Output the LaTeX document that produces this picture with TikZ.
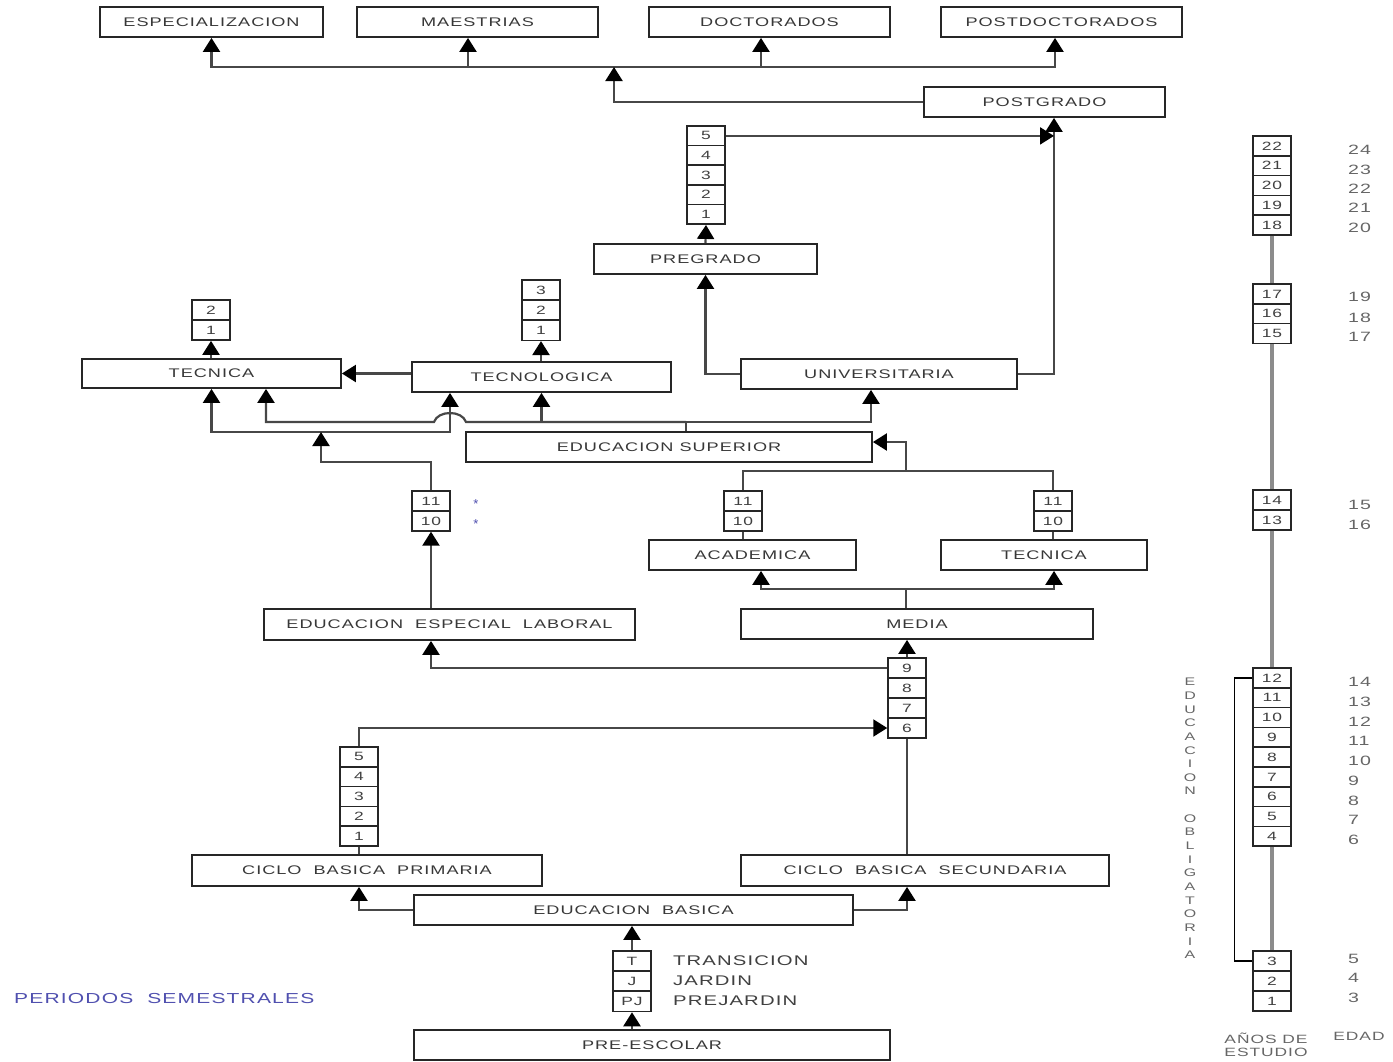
\documentclass[tikz,border=0pt]{standalone}
\usepackage{fontspec}
\setmainfont{Liberation Sans}
\newfontfamily\dfont[FakeStretch=1.45,LetterSpace=8]{Liberation Sans}
\usetikzlibrary{arrows.meta}
\newcommand\bxfont{\dfont\fontsize{12.5}{14}\selectfont}
\newcommand\clfont{\dfont\fontsize{12}{12}\selectfont}
\newcommand\agefont{\dfont\fontsize{13.5}{14}\selectfont}
\newcommand\lblfont{\dfont\fontsize{14}{16}\selectfont}
\newcommand\vfont{\dfont\fontsize{11}{13.65}\selectfont}
\newcommand\smfont{\dfont\fontsize{12}{14}\selectfont}
\definecolor{semblue}{RGB}{80,80,175}
\begin{document}
\begin{tikzpicture}[x=1pt,y=-1pt,
 box/.style={draw=black!85, line width=1.8pt, fill=white, inner sep=0pt, font=\bxfont, text=black!78},
 cell/.style={draw=black!85, line width=1.5pt, fill=white, inner sep=0pt, minimum width=38, minimum height=19.8, font=\clfont, text=black!75},
 conn/.style={draw=black!72, line width=2.2pt},
 arr/.style={-{Triangle[length=14pt,width=17pt,color=black]}},
 gline/.style={draw=black!45, line width=4pt},
 age/.style={font=\agefont, text=black!60, anchor=west, inner sep=0pt},
 lbl/.style={font=\lblfont, text=black!75, anchor=west, inner sep=0pt}]
\useasboundingbox (0,0) rectangle (1393,1061);

% ---------- boxes ----------
\node[box,minimum width=223,minimum height=30] (esp) at (211.5,22) {ESPECIALIZACION};
\node[box,minimum width=241,minimum height=30] (mae) at (477.5,22) {MAESTRIAS};
\node[box,minimum width=241,minimum height=30] (doc) at (769.5,22) {DOCTORADOS};
\node[box,minimum width=241,minimum height=30] (pdoc) at (1061.5,22) {POSTDOCTORADOS};
\node[box,minimum width=241,minimum height=30] (post) at (1044.5,102) {POSTGRADO};
\node[box,minimum width=223,minimum height=30] (pregrado) at (705.5,259) {PREGRADO};
\node[box,minimum width=276,minimum height=30] (univ) at (879,374) {UNIVERSITARIA};
\node[box,minimum width=259,minimum height=29] (tecnica) at (211.5,373.5) {TECNICA};
\node[box,minimum width=259,minimum height=30] (tecnol) at (541.5,377) {TECNOLOGICA};
\node[box,minimum width=406,minimum height=30] (esup) at (669,447) {EDUCACION SUPERIOR};
\node[box,minimum width=207,minimum height=30] (acad) at (752.5,555) {ACADEMICA};
\node[box,minimum width=206,minimum height=30] (tec2) at (1044,555) {TECNICA};
\node[box,minimum width=371,minimum height=31] (eel) at (449.5,624.5) {EDUCACION\ \ ESPECIAL\ \ LABORAL};
\node[box,minimum width=352,minimum height=30] (media) at (917,624) {MEDIA};
\node[box,minimum width=350,minimum height=31] (cbp) at (367,870.5) {CICLO\ \ BASICA\ \ PRIMARIA};
\node[box,minimum width=368,minimum height=31] (cbs) at (925,870.5) {CICLO\ \ BASICA\ \ SECUNDARIA};
\node[box,minimum width=439,minimum height=30] (eb) at (633.5,910) {EDUCACION\ \ BASICA};
\node[box,minimum width=476,minimum height=30] (pre) at (652,1045) {PRE-ESCOLAR};

% ---------- cell stacks ----------
\foreach \t [count=\i] in {5,4,3,2,1}
  \node[cell] (pg\t) at (706,{126+9.9+(\i-1)*19.6}) {\t};
\foreach \t [count=\i] in {2,1}
  \node[cell] (ts\t) at (211,{300+10+(\i-1)*20.2}) {\t};
\foreach \t [count=\i] in {3,2,1}
  \node[cell] (ns\t) at (541,{280+10+(\i-1)*20.2}) {\t};
\foreach \t [count=\i] in {11,10}
  \node[cell] (es\t) at (431,{491+10+(\i-1)*20}) {\t};
\foreach \t [count=\i] in {11,10}
  \node[cell] (as\t) at (743,{491+10+(\i-1)*20}) {\t};
\foreach \t [count=\i] in {11,10}
  \node[cell] (bs\t) at (1053,{491+10+(\i-1)*20}) {\t};
\foreach \t [count=\i] in {9,8,7,6}
  \node[cell] (ss\t) at (907,{658+10+(\i-1)*20}) {\t};
\foreach \t [count=\i] in {5,4,3,2,1}
  \node[cell] (ps\t) at (359,{747+9.9+(\i-1)*19.8}) {\t};
\foreach \t [count=\i] in {T,J,PJ}
  \node[cell] (pr\t) at (632,{951+10+(\i-1)*20.3}) {\t};

% right column
\foreach \t [count=\i] in {22,21,20,19,18}
  \node[cell] (r\t) at (1272,{136+9.9+(\i-1)*19.8}) {\t};
\foreach \t [count=\i] in {17,16,15}
  \node[cell] (r\t) at (1272,{284+9.9+(\i-1)*19.8}) {\t};
\foreach \t [count=\i] in {14,13}
  \node[cell] (r\t) at (1272,{490+10+(\i-1)*20}) {\t};
\foreach \t [count=\i] in {12,11,10,9,8,7,6,5,4}
  \node[cell] (r\t) at (1272,{668+9.9+(\i-1)*19.8}) {\t};
\foreach \t [count=\i] in {3,2,1}
  \node[cell] (r\t) at (1272,{951+10+(\i-1)*20}) {\t};

% ---------- connectors: top ----------
\coordinate (tb) at (614,67);
\coordinate (maeA) at ([xshift=-9.5]mae.south);
\coordinate (docA) at ([xshift=-8.5]doc.south);
\draw[conn,arr] (tb) -| (esp.south);
\draw[conn,arr] (tb) -| ([xshift=-6.5]pdoc.south);
\draw[conn,arr] (tb -| maeA) -- (maeA);
\draw[conn,arr] (tb -| docA) -- (docA);
\draw[conn,arr] (post.west) -| (tb);

\coordinate (rx) at (1054,374);
\draw[conn,arr] (univ.east) -| (post.south -| rx);
\draw[conn,arr] (pg5.east) -- (pg5.east -| rx);
\draw[conn,arr] (pregrado.north) -- (pg1.south);
\draw[conn,arr] (univ.west) -| (pregrado.south);

% ---------- middle ----------
\draw[conn,arr] (tecnica.north -| ts1) -- (ts1.south);
\draw[conn,arr] (tecnol.north -| ns1) -- (ns1.south);
\draw[conn,arr] (tecnol.west |- tecnica.east) -- (tecnica.east);

\coordinate (ja) at (321,432);
\coordinate (jb) at (321,462);
\coordinate (jc) at (686,422);
\coordinate (hop) at (450,422);
\draw[conn,arr] (ja) -| (tecnica.south);
\draw[conn,arr] (ja) -| ([xshift=-91.5]tecnol.south);
\draw[conn,arr] (es11.north) |- (jb) -- (ja);
\draw[conn] ([xshift=17]esup.north) -- (jc);
\draw[conn,arr] (jc) -- ([xshift=16]hop) .. controls +(-4,-12) and +(4,-12) .. ([xshift=-16]hop) -| ([xshift=54.5]tecnica.south);
\draw[conn,arr] (jc) -| ([xshift=-8]univ.south);
\draw[conn,arr] (tecnol.south |- jc) -- (tecnol.south);
\draw[conn,arr] (es10.south |- eel.north) -- (es10.south);

\coordinate (jd) at (906,471);
\draw[conn,arr] (jd) |- ([yshift=5]esup.east);
\draw[conn] (jd) -| (as11.north);
\draw[conn] (jd) -| (bs11.north);
\draw[conn] (acad.north -| as10) -- (as10.south);
\draw[conn] (tec2.north -| bs10) -- (bs10.south);

\coordinate (je) at (906,589);
\draw[conn] ([xshift=-11]media.north) -- (je);
\draw[conn,arr] (je) -| ([xshift=8.5]acad.south);
\draw[conn,arr] (je) -| ([xshift=10]tec2.south);

% ---------- lower ----------
\draw[conn,arr] (ss9.north) -- (media.south -| ss9);
\draw[conn,arr] (ss9.west) -| (es10.south |- eel.south);
\draw[conn,arr] (ps5.north) |- (ss6.west);
\draw[conn] (ss6.south |- cbs.north) -- (ss6.south);
\draw[conn] (ps1.south |- cbp.north) -- (ps1.south);
\draw[conn,arr] (eb.west) -| (cbp.south -| ps1);
\draw[conn,arr] (eb.east) -| (cbs.south -| ss6);
\draw[conn,arr] (prT.north) -- (eb.south -| prT);
\draw[conn,arr] (pre.north -| prPJ) -- (prPJ.south);

% ---------- right column ----------
\draw[gline] (r18.south) -- (r17.north);
\draw[gline] (r15.south) -- (r14.north);
\draw[gline] (r13.south) -- (r12.north);
\draw[gline] (r4.south) -- (r3.north);
\draw[black, line width=1.4pt] (r12.west) -- ++(-18,0) |- (r3.west);

\foreach \a/\y in {24/150,23/170,22/189,21/208,20/228,19/297,18/318,17/337,15/505,16/525,5/959,4/978,3/998}
  \node[age] (a\a) at (1348,\y) {\a};
\foreach \a [count=\i] in {14,13,12,11,10,9,8,7,6}
  \node[age] (a\a) at (1348,{682+(\i-1)*19.75}) {\a};

\node[font=\vfont, text=black!60, align=center, inner sep=0pt] (vt) at (1190,818.5)
  {E\\D\\U\\C\\A\\C\\I\\O\\N\\\mbox{}\\O\\B\\L\\I\\G\\A\\T\\O\\R\\I\\A};
\node[font=\smfont, text=black!60, align=center, inner sep=0pt] (anos) at (1266,1045)
  {A\~NOS DE\\[-1pt]ESTUDIO};
\node[font=\smfont, text=black!60, inner sep=0pt] (edad) at (1359,1036) {EDAD};

% ---------- other labels ----------
\node[lbl] (ltr) at (673,961) {TRANSICION};
\node[lbl] (lja) at (673,981) {JARDIN};
\node[lbl] (lpj) at (673,1001) {PREJARDIN};
\node[lbl, text=semblue, font=\dfont\fontsize{14.5}{16}\selectfont] (sem) at (14,998) {PERIODOS\ \ SEMESTRALES};
\node[text=semblue, font=\fontsize{13}{14}\selectfont, inner sep=0pt] (st1) at (476,504) {*};
\node[text=semblue, font=\fontsize{13}{14}\selectfont, inner sep=0pt] (st2) at (476,524) {*};
\end{tikzpicture}
\end{document}
